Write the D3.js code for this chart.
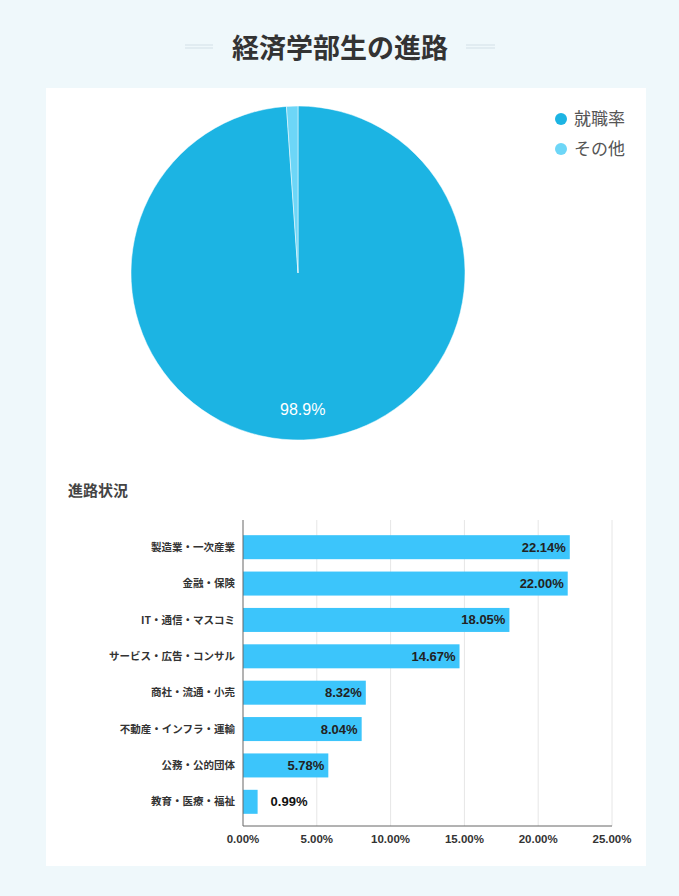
<!DOCTYPE html>
<html>
<head>
<meta charset="utf-8">
<script src="https://cdn.jsdelivr.net/npm/d3@7"></script>
<style>
  body { margin: 0; background: #eff8fb; }
  svg { display: block; font-family: "Noto Sans CJK JP", "Noto Sans", sans-serif; }
</style>
</head>
<body>
<svg></svg>
<script>
// pie data
var pieLabels = ["就職率", "その他"];
var pieValues = [98.9, 1.1];
var pieColors = ["#1cb4e3", "#6dd6f7"];

// bar data
var barCategories = ["製造業・一次産業", "金融・保険", "IT・通信・マスコミ", "サービス・広告・コンサル",
    "商社・流通・小売", "不動産・インフラ・運輸", "公務・公的団体", "教育・医療・福祉"];
var barValues = [22.14, 22.00, 18.05, 14.67, 8.32, 8.04, 5.78, 0.99];
var barTicks = [0, 5, 10, 15, 20, 25];

window.onload = function(){
    var svg = d3.select("svg")
        .attr("width", 679)
        .attr("height", 896);
    var numFont = "Arial, 'Liberation Sans', sans-serif";

    // title with side rules
    svg.append("text")
        .attr("x", 340).attr("y", 58)
        .attr("text-anchor", "middle")
        .attr("font-size", 27).attr("font-weight", "bold")
        .attr("fill", "#333")
        .text("経済学部生の進路");
    [[185, 213], [466, 495]].forEach(function(p){
        [45, 48].forEach(function(y){
            svg.append("line")
                .attr("x1", p[0]).attr("x2", p[1])
                .attr("y1", y).attr("y2", y)
                .attr("stroke", "#dce9ee").attr("stroke-width", 1.5);
        });
    });

    // white panel
    svg.append("rect")
        .attr("x", 46).attr("y", 88)
        .attr("width", 600).attr("height", 778)
        .attr("fill", "#fff");

    // ---- pie ----
    var cx = 298, cy = 273, r = 167;
    var pie = d3.pie().sort(null).value(function(d){ return d; });
    var arc = d3.arc().innerRadius(0).outerRadius(r);
    var pieG = svg.append("g").attr("transform", "translate(" + cx + "," + cy + ")");
    var arcs = pie(pieValues);
    pieG.selectAll("path")
        .data(arcs).enter()
        .append("path")
        .attr("d", arc)
        .attr("fill", function(d, i){ return pieColors[i]; })
        .attr("stroke", "#fff")
        .attr("stroke-width", 0.5);

    // label on the big slice
    var labelArc = d3.arc().innerRadius(r * 0.82).outerRadius(r * 0.82);
    pieG.append("text")
        .attr("transform", function(){
            var c = labelArc.centroid(arcs[0]);
            return "translate(" + c[0] + "," + c[1] + ")";
        })
        .attr("dy", "0.35em")
        .attr("text-anchor", "middle")
        .attr("font-size", 16)
        .attr("fill", "#fff")
        .style("font-family", numFont)
        .text(pieValues[0] + "%");

    // legend
    var legend = svg.selectAll(".legend")
        .data(pieLabels).enter()
        .append("g")
        .attr("transform", function(d, i){ return "translate(561," + (119 + i * 30) + ")"; });
    legend.append("circle")
        .attr("r", 6)
        .attr("fill", function(d, i){ return pieColors[i]; });
    legend.append("text")
        .attr("x", 13).attr("dy", "0.35em")
        .attr("font-size", 17)
        .attr("fill", "#555")
        .text(function(d){ return d; });

    // ---- bar chart ----
    svg.append("text")
        .attr("x", 68).attr("y", 496)
        .attr("font-size", 15).attr("font-weight", "bold")
        .attr("fill", "#444")
        .text("進路状況");

    var x = d3.scaleLinear().domain([0, 25]).range([243, 612]);
    var y = d3.scaleBand().domain(barCategories).range([529, 820]).paddingInner(0.34).paddingOuter(0.17);
    var top = 520, bottom = 826;

    // grid
    svg.append("g").selectAll("line")
        .data(barTicks.slice(1)).enter()
        .append("line")
        .attr("x1", function(d){ return x(d); }).attr("x2", function(d){ return x(d); })
        .attr("y1", top).attr("y2", bottom)
        .attr("stroke", "#e6e6e6");

    svg.append("g").selectAll("rect")
        .data(barValues).enter()
        .append("rect")
        .attr("x", x(0))
        .attr("y", function(d, i){ return y(barCategories[i]); })
        .attr("width", function(d){ return x(d) - x(0); })
        .attr("height", y.bandwidth())
        .attr("fill", "#3cc5fb");

    svg.append("g").selectAll("text")
        .data(barValues).enter()
        .append("text")
        .attr("x", function(d){ return d < 3 ? x(d) + 13 : x(d) - 4; })
        .attr("y", function(d, i){ return y(barCategories[i]) + y.bandwidth() / 2; })
        .attr("dy", "0.35em")
        .attr("text-anchor", function(d){ return d < 3 ? "start" : "end"; })
        .style("font-family", numFont)
        .attr("font-size", 13).attr("font-weight", "bold")
        .attr("fill", function(d){ return d < 3 ? "#111" : "#222"; })
        .text(function(d){ return d.toFixed(2) + "%"; });

    // category labels
    svg.append("g").selectAll("text")
        .data(barCategories).enter()
        .append("text")
        .attr("x", 235)
        .attr("y", function(d){ return y(d) + y.bandwidth() / 2; })
        .attr("dy", "0.35em")
        .attr("text-anchor", "end")
        .attr("font-size", 10.5).attr("font-weight", "bold")
        .attr("fill", "#333")
        .text(function(d){ return d; });

    // axes lines
    svg.append("line")
        .attr("x1", x(0)).attr("x2", x(0))
        .attr("y1", top).attr("y2", bottom)
        .attr("stroke", "#666");
    svg.append("line")
        .attr("x1", x(0)).attr("x2", x(25))
        .attr("y1", bottom).attr("y2", bottom)
        .attr("stroke", "#666");

    svg.append("g").selectAll("text")
        .data(barTicks).enter()
        .append("text")
        .attr("x", function(d){ return x(d); })
        .attr("y", 843)
        .attr("text-anchor", "middle")
        .style("font-family", numFont)
        .attr("font-size", 11.5).attr("font-weight", "bold")
        .attr("fill", "#333")
        .text(function(d){ return d.toFixed(2) + "%"; });
}
</script>
</body>
</html>
